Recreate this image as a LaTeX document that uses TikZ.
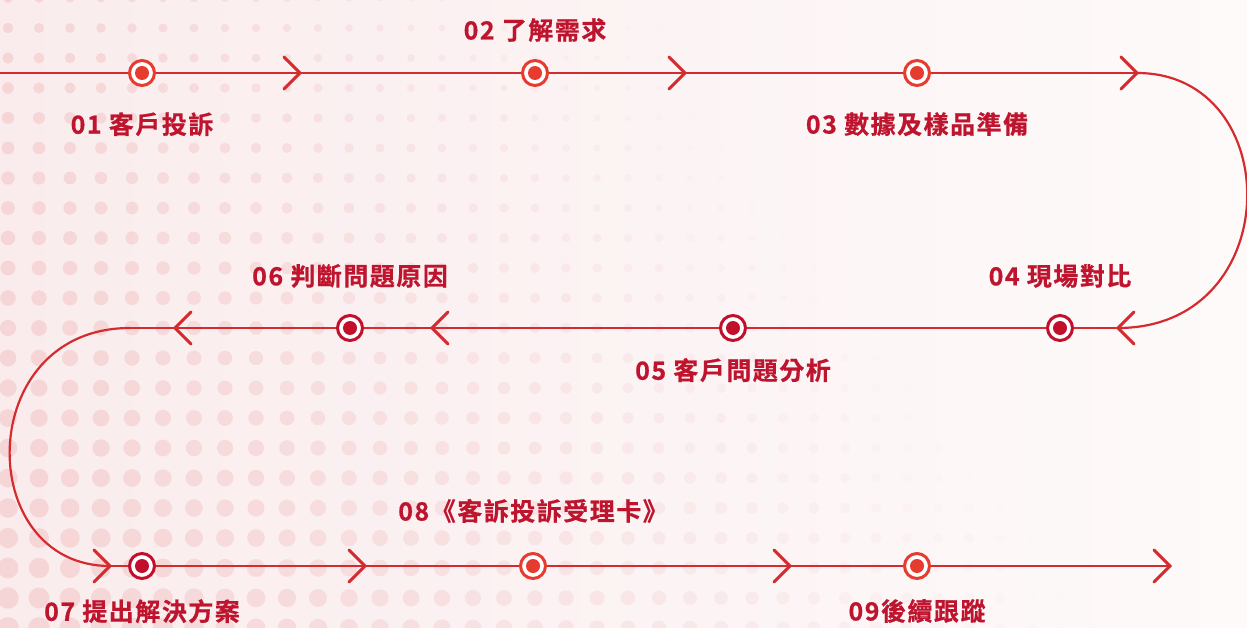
\documentclass[tikz,border=0pt]{standalone}
\usepackage{fontspec}
\usepackage{tikz}
\usetikzlibrary{positioning,calc}
\newfontfamily\cjk{Noto Sans CJK TC}[UprightFont={* Bold},LetterSpace=6,FakeBold=0.6]
\definecolor{linered}{HTML}{D42B2F}
\definecolor{ringlt}{HTML}{E63B2E}
\definecolor{ringdk}{HTML}{C20F2B}
\definecolor{labelred}{HTML}{BE142E}
\definecolor{bgleft}{HTML}{FAECED}
\definecolor{bgright}{HTML}{FEFAFA}
\definecolor{dotpink}{HTML}{F6D5D6}

\begin{document}
\begin{tikzpicture}[x=1pt,y=-1pt,
  every node/.style={inner sep=0pt},
  flow/.style={draw=linered,line width=2.2pt},
  chev/.style={draw=linered,line width=3pt,line cap=round,line join=miter},
  dotlt/.style={circle,draw=ringlt,line width=3pt,fill=white,minimum size=25pt},
  dotdk/.style={circle,draw=ringdk,line width=3pt,fill=white,minimum size=25pt},
  lbl/.style={font=\cjk\fontsize{25}{29}\selectfont,text=labelred},
  chevR/.pic={\draw[chev] (-16,-16) -- (0,0) -- (-16,16);},
  chevL/.pic={\draw[chev] (16,-16) -- (0,0) -- (16,16);}]
\useasboundingbox (0,0) rectangle (1247,628);
\clip (0,0) rectangle (1247,628);
% background
\shade[left color=bgleft,right color=bgright] (0,0) rectangle (1247,628);
\foreach \i in {0,...,40}{\foreach \j in {0,...,21}{
  \pgfmathsetmacro\px{8+31*\i}
  \pgfmathsetmacro\py{-2+30*\j}
  \pgfmathsetmacro\f{max(0,1-\px/(650+450*(\py/628)))}
  \pgfmathsetmacro\rr{(5+6*(\py/628))*(0.45+0.55*\f)}
  \fill[dotpink,fill opacity=\f] (\px,\py) circle (\rr);
}}
% markers
\node[dotlt] (m1) at (142,73) {};
\node[dotlt] (m2) at (535,73) {};
\node[dotlt] (m3) at (917,73) {};
\node[dotdk] (m4) at (1060,328) {};
\node[dotdk] (m5) at (733,328) {};
\node[dotdk] (m6) at (350,328) {};
\node[dotdk] (m7) at (142,566) {};
\node[dotlt] (m8) at (533,566) {};
\node[dotlt] (m9) at (917,566) {};
\foreach \m/\c in {m1/ringlt,m2/ringlt,m3/ringlt,m4/ringdk,m5/ringdk,m6/ringdk,m7/ringdk,m8/ringlt,m9/ringlt}{\fill[\c] (\m) circle (7);}
% path
\coordinate (s) at (0,73);
\coordinate (r1) at (1137,73);
\coordinate (r2) at (1118,328);
\coordinate (l1) at (130,328);
\coordinate (l2) at (110,566);
\coordinate (e) at (1170,566);
\foreach \a/\b in {s/m1,m1/m2,m2/m3,m3/r1,r2/m4,m4/m5,m5/m6,m6/l1,l2/m7,m7/m8,m8/m9,m9/e}{\draw[flow] (\a)--(\b);}
\draw[flow] (r1) .. controls (1287,73) and (1287,328) .. (r2);
\draw[flow] (l1) .. controls (-27,328) and (-27,566) .. (l2);
\foreach \x/\y in {300/73,685/73,1137/73,110/566,365/566,790/566,1170/566}{\pic at (\x,\y) {chevR};}
\foreach \x in {1118,432,175}{\pic at (\x,328) {chevL};}
% labels
\node[lbl,below=25pt of m1] (t1) {01 客戶投訴};
\node[lbl,above=17pt of m2] (t2) {02 了解需求};
\node[lbl,below=25pt of m3] (t3) {03 數據及樣品準備};
\node[lbl,above=26pt of m4] (t4) {04 現場對比};
\node[lbl,below=16pt of m5] (t5) {05 客戶問題分析};
\node[lbl,above=26pt of m6] (t6) {06 判斷問題原因};
\node[lbl,below=19pt of m7] (t7) {07 提出解決方案};
\node[lbl,above=29pt of m8] (t8) {08《客訴投訴受理卡》};
\node[lbl,below=19pt of m9] (t9) {09後續跟蹤};
\end{tikzpicture}
\end{document}
